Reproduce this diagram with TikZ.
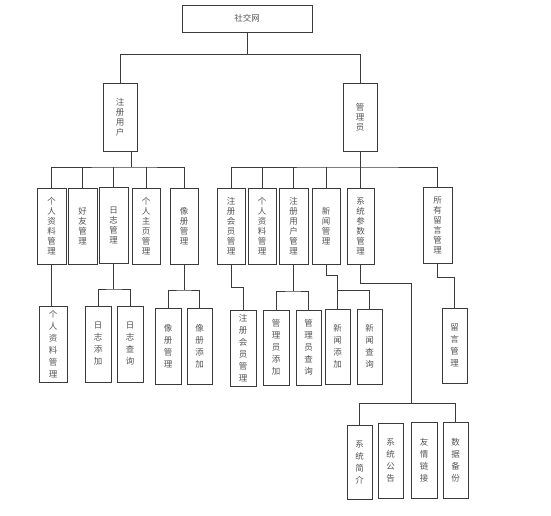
\documentclass[tikz,border=0pt]{standalone}
\usepackage{fontspec}
\newfontfamily\cjk{Noto Sans CJK SC}
\definecolor{ln}{HTML}{3A3A3A}
\definecolor{txt}{HTML}{555555}
\tikzset{
  box/.style={draw=ln,line width=0.9pt,fill=white,inner sep=0pt,align=center,text=txt,
    font=\cjk\fontsize{8.5}{10}\selectfont},
  leaf/.style={box,font=\cjk\fontsize{8.5}{12}\selectfont},
  conn/.style={draw=ln,line width=0.9pt}
}
\newcommand\bx[7][box]{\node[#1,minimum width={(#5-#3)*1pt},minimum height={(#6-#4)*1pt}] (#2) at ({(#3+#5)/2},{(#4+#6)/2}) {#7};}
\begin{document}
\begin{tikzpicture}[x=1pt,y=-1pt]
\fill[white] (0,0) rectangle (551,515);
\useasboundingbox (0,0) rectangle (551,515);
% level 0-1
\bx{top}{182}{5}{312}{32}{社交网}
\bx{reg}{103}{83}{137}{151}{注\\册\\用\\户}
\bx{adm}{343}{83}{377}{151}{管\\理\\员}
% user children
\bx{u1}{37}{188}{66}{264}{个\\人\\资\\料\\管\\理}
\bx{u2}{68}{188}{97}{264}{好\\友\\管\\理}
\bx{u3}{99}{187}{128}{263}{日\\志\\管\\理}
\bx{u4}{132}{188}{160}{264}{个\\人\\主\\页\\管\\理}
\bx{u5}{170}{188}{198}{264}{像\\册\\管\\理}
% admin children
\bx{a1}{217}{188}{245}{264}{注\\册\\会\\员\\管\\理}
\bx{a2}{248}{188}{276}{264}{个\\人\\资\\料\\管\\理}
\bx{a3}{279}{188}{308}{264}{注\\册\\用\\户\\管\\理}
\bx{a4}{312}{188}{340}{264}{新\\闻\\管\\理}
\bx{a5}{347}{188}{374}{264}{系\\统\\参\\数\\管\\理}
\bx{a6}{423}{187}{452}{263}{所\\有\\留\\言\\管\\理}
% user leaves
\bx[leaf]{l1}{39}{306}{67}{382}{个\\人\\资\\料\\管\\理}
\bx[leaf]{l2}{85}{306}{111}{382}{日\\志\\添\\加}
\bx[leaf]{l3}{117}{306}{143}{382}{日\\志\\查\\询}
\bx[leaf]{l4}{155}{308}{181}{384}{像\\册\\管\\理}
\bx[leaf]{l5}{187}{308}{212}{384}{像\\册\\添\\加}
% admin leaves
\bx[leaf]{m1}{230}{310}{256}{386}{注\\册\\会\\员\\管\\理}
\bx[leaf]{m2}{263}{310}{289}{385}{管\\理\\员\\添\\加}
\bx[leaf]{m3}{296}{310}{321}{385}{管\\理\\员\\查\\询}
\bx[leaf]{m4}{325}{309}{350}{384}{新\\闻\\添\\加}
\bx[leaf]{m5}{357}{309}{382}{384}{新\\闻\\查\\询}
\bx[leaf]{m6}{442}{308}{467}{383}{留\\言\\管\\理}
% system leaves
\bx[leaf]{s1}{347}{425}{372}{499}{系\\统\\简\\介}
\bx[leaf]{s2}{378}{423}{403}{498}{系\\统\\公\\告}
\bx[leaf]{s3}{411}{422}{437}{498}{友\\情\\链\\接}
\bx[leaf]{s4}{443}{422}{468}{498}{数\\据\\备\\份}
% junctions
\coordinate (j0) at (247,54);
\coordinate (rj) at (131,167);
\coordinate (aj) at (360.5,167);
\coordinate (k1) at (231,287);
\coordinate (k4) at (326,275);
\coordinate (k5) at (360.5,283);
\coordinate (k6) at (437.5,277);
\coordinate (sj) at (411,403);
% connectors level 0-1
\draw[conn] (top.south) -- (j0) -| (reg.north);
\draw[conn] (j0) -| (adm.north);
% user
\draw[conn] (reg.south -| rj) -- (rj);
\draw[conn] (u1.north) |- (rj) -| (u5.north);
\foreach \n in {u2,u3,u4} \draw[conn] (\n.north) -- (\n.north |- rj);
% admin
\draw[conn] (adm.south -| aj) -- (aj);
\draw[conn] (a1.north) |- (aj) -| (a6.north);
\foreach \n in {a2,a3,a4,a5} \draw[conn] (\n.north) -- (\n.north |- aj);
% user leaves
\draw[conn] (u1.south) -- (u1.south |- l1.north);
\draw[conn] (u3.south) -- (u3.south |- 0,289);
\draw[conn] (l2.north) |- (u3.south |- 0,289) -| (l3.north);
\draw[conn] (u5.south) -- (u5.south |- 0,290);
\draw[conn] (l4.north) |- (u5.south |- 0,290) -| (l5.north);
% admin leaves
\draw[conn] (a1.south) -- (k1) -| (m1.north);
\draw[conn] (a3.south) -- (a3.south |- 0,291);
\draw[conn] (m2.north) |- (a3.south |- 0,291) -| (m3.north);
\draw[conn] (a4.south) -- (k4) -| (m4.north);
\draw[conn] (m4.north |- 0,290) -| (m5.north);
\draw[conn] (a6.south) -- (k6) -| (m6.north);
\draw[conn] (a5.south) -- (k5) -| (sj);
\draw[conn] (s1.north) |- (sj) -| (s4.north);
\end{tikzpicture}
\end{document}
